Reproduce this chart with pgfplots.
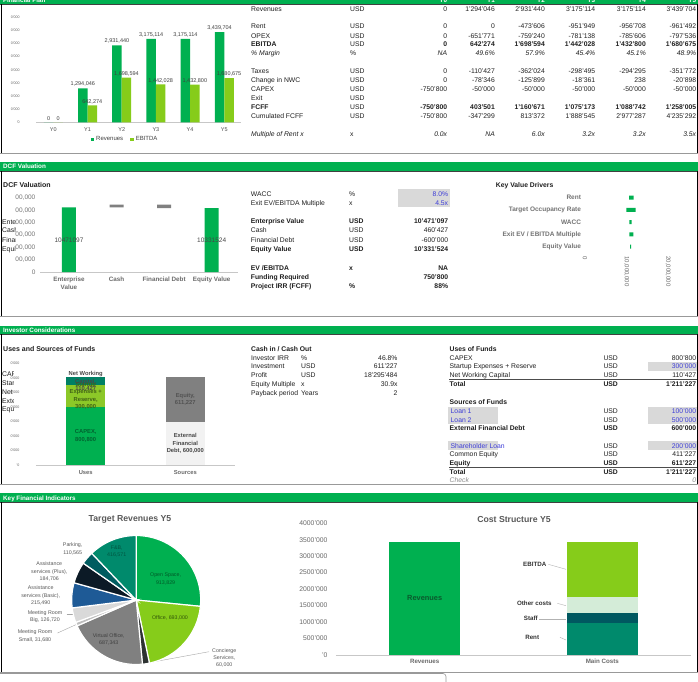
\documentclass[border=0pt]{standalone}
\usepackage{fontspec}
\setmainfont{Liberation Sans}
\usepackage{pgfplots}
\pgfplotsset{compat=1.18}
\pgfkeys{/pgf/number format/assume math mode=true}
\definecolor{G}{RGB}{0,176,80}
\definecolor{LG}{RGB}{134,204,26}
\definecolor{Teal}{RGB}{0,138,108}
\definecolor{DTeal}{RGB}{0,88,96}
\definecolor{PTeal}{RGB}{0,92,96}
\definecolor{Mint}{RGB}{212,236,216}
\definecolor{Gry}{RGB}{128,128,128}
\definecolor{LGry}{RGB}{217,217,217}
\definecolor{VLG}{RGB}{242,242,242}
\definecolor{BoxG}{RGB}{217,217,217}
\definecolor{Blu}{RGB}{60,60,215}
\definecolor{ABlue}{RGB}{30,90,150}
\definecolor{Navy}{RGB}{12,26,38}
\definecolor{Conc}{RGB}{45,50,50}
\definecolor{MRS}{RGB}{190,190,190}
\definecolor{NWC}{RGB}{0,128,100}
\definecolor{SU}{RGB}{140,200,40}
\newcommand{\fs}[1]{\fontsize{#1}{#1}\selectfont}
\newcommand{\fss}[2]{\fontsize{#1}{#2}\selectfont}
\tikzset{
 L/.style={anchor=base west,inner sep=0pt,yshift=-2.5pt},
 R/.style={anchor=base east,inner sep=0pt,yshift=-2.5pt},
 B/.style={font=\fs{6.8}\bfseries},
 I/.style={font=\fs{6.8}\itshape},
}
\newcommand{\frow}[5][]{%
 \node[L,#1] at (251,#2) {#3};
 \node[L] at (350,#2) {#4};
 \foreach \v [count=\i from 0] in {#5} {%
  \pgfmathsetmacro\xx{{447.3,495,545,595.3,646,696.3}[\i]}%
  \node[R,#1] at (\xx,#2) {\v};
 }%
}
\newcommand{\panel}[4]{%
 \fill[G] (0,#1) rectangle (698,#2);
 \draw[black!75,line width=0.8pt] (0,#2) -- (698,#2);
 \draw[black,line width=1pt] (1,#2) -- (1,#3);
 \draw[black,line width=1pt] (697,#2) -- (697,#3);
 \draw[black!40,line width=1.6pt] (0,#3) -- (698,#3);
 \node[L,text=white,font=\fs{6.3}\bfseries] at (3,{(#1+#2)/2}) {#4};
}
\def\piedata{913829/G,693000/LG,60000/Conc,687343/Gry,31680/MRS,126720/LGry,215490/ABlue,184706/Navy,110565/PTeal,416571/Teal}
\begin{document}
\begin{tikzpicture}
\useasboundingbox (0,0) rectangle (698pt,-681pt);
\clip (0,0) rectangle (698pt,-681pt);
\fill[white] (0,0) rectangle (698pt,-681pt);
\begin{scope}[x=1pt,y=-1pt,every node/.style={font=\fs{6.8},text=black!88}]
% ---------- Financial plan frame
\fill[G] (0,0) rectangle (698,4);
\draw[black!75,line width=0.8pt] (0,4) -- (698,4);
\begin{scope}
 \clip (0,0) rectangle (698,3.6);
 \node[L,text=white,font=\fs{6.3}\bfseries] at (3,0) {Financial Plan};
 \foreach \xx/\t in {447.3/Y0,495/Y1,545/Y2,595.3/Y3,646/Y4,696.3/Y5}
  \node[R,text=white,font=\fs{6.3}\bfseries] at (\xx,0) {\t};
\end{scope}
\draw[black,line width=1pt] (1,4) -- (1,154);
\draw[black,line width=1pt] (697,4) -- (697,154);
\draw[black!40,line width=1.6pt] (0,153.5) -- (698,153.5);
% table
\frow{9}{Revenues}{USD}{0,1'294'046,2'931'440,3'175'114,3'175'114,3'439'704}
\frow{26}{Rent}{USD}{0,0,-473'606,-951'949,-956'708,-961'492}
\frow{35.7}{OPEX}{USD}{0,-651'771,-759'240,-781'138,-785'606,-797'536}
\frow[B]{44.3}{EBITDA}{USD}{0,642'274,1'698'594,1'442'028,1'432'800,1'680'675}
\frow[I]{53}{\% Margin}{\%}{NA,49.6\%,57.9\%,45.4\%,45.1\%,48.9\%}
\frow{71}{Taxes}{USD}{0,-110'427,-362'024,-298'495,-294'295,-351'772}
\frow{80.3}{Change in NWC}{USD}{0,-78'346,-125'899,-18'361,238,-20'898}
\frow{89}{CAPEX}{USD}{-750'800,-50'000,-50'000,-50'000,-50'000,-50'000}
\node[L] at (251,98) {Exit}; \node[L] at (350,98) {USD};
\frow[B]{107}{FCFF}{USD}{-750'800,403'501,1'160'671,1'075'173,1'088'742,1'258'005}
\frow{116}{Cumulated FCFF}{USD}{-750'800,-347'299,813'372,1'888'545,2'977'287,4'235'292}
\frow[I]{134}{Multiple of Rent x}{x}{0.0x,NA,6.0x,3.2x,3.2x,3.5x}
% ---------- DCF
\panel{161.5}{171}{316.5}{DCF Valuation}
\node[L,font=\fs{7}\bfseries] at (3,185) {DCF Valuation};
\begin{scope}
 \clip (0,215) rectangle (15,255);
 \node[L] at (2,222.3) {Enterprise Value};
 \node[L] at (2,230.3) {Cash};
 \node[L] at (2,240) {Financial Debt};
 \node[L] at (2,249) {Equity Value};
\end{scope}
\fill[BoxG] (398.3,189.3) rectangle (450,207.3);
\node[L] at (250.7,194.3) {WACC}; \node[L] at (349,194.3) {\%}; \node[R,text=Blu] at (448.3,194.3) {8.0\%};
\node[L] at (250.7,203) {Exit EV/EBITDA Multiple}; \node[L] at (349,203) {x}; \node[R,text=Blu] at (448.3,203) {4.5x};
\node[L,B] at (250.7,221.3) {Enterprise Value}; \node[L,B] at (349,221.3) {USD}; \node[R,B] at (448.3,221.3) {10'471'097};
\node[L] at (250.7,230.3) {Cash}; \node[L] at (349,230.3) {USD}; \node[R] at (448.3,230.3) {460'427};
\node[L] at (250.7,240) {Financial Debt}; \node[L] at (349,240) {USD}; \node[R] at (448.3,240) {-600'000};
\node[L,B] at (250.7,249.3) {Equity Value}; \node[L,B] at (349,249.3) {USD}; \node[R,B] at (448.3,249.3) {10'331'524};
\node[L,B] at (250.7,267.7) {EV /EBITDA}; \node[L,B] at (349,267.7) {x}; \node[R,B] at (448.3,267.7) {NA};
\node[L,B] at (250.7,276.7) {Funding Required}; \node[R,B] at (448.3,276.7) {750'800};
\node[L,B] at (250.7,286) {Project IRR (FCFF)}; \node[L,B] at (349,286) {\%}; \node[R,B] at (448.3,286) {88\%};
\node[L,B] at (495.7,185) {Key Value Drivers};
% ---------- Investor
\panel{326}{334.3}{484.3}{Investor Considerations}
\node[L,font=\fs{7}\bfseries] at (3,348.7) {Uses and Sources of Funds};
\begin{scope}
 \clip (0,368) rectangle (13.8,414);
 \node[L] at (2,374.3) {CAPEX};
 \node[L] at (2,383.3) {Startup Expenses + Reserve};
 \node[L] at (2,392.3) {Net Working Capital};
 \node[L] at (2,401.3) {External Financial Debt};
 \node[L] at (2,409) {Equity};
\end{scope}
\node[L,B] at (251,348.7) {Cash in / Cash Out};
\node[L] at (251,357.7) {Investor IRR}; \node[L] at (301,357.7) {\%}; \node[R] at (397.7,357.7) {46.8\%};
\node[L] at (251,366.3) {Investment}; \node[L] at (301,366.3) {USD}; \node[R] at (397.7,366.3) {611'227};
\node[L] at (251,375) {Profit}; \node[L] at (301,375) {USD}; \node[R] at (397.7,375) {18'295'484};
\node[L] at (251,384) {Equity Multiple}; \node[L] at (301,384) {x}; \node[R] at (397.7,384) {30.9x};
\node[L] at (251,392.7) {Payback period}; \node[L] at (301,392.7) {Years}; \node[R] at (397.7,392.7) {2};
\fill[BoxG] (648.3,362) rectangle (697,370.6);
\fill[BoxG] (648.3,406.7) rectangle (697,423.9);
\fill[BoxG] (448.3,406.7) rectangle (498.3,423.9);
\fill[BoxG] (448.3,441.4) rectangle (498.3,450);
\fill[BoxG] (648.3,441.4) rectangle (697,450);
\draw[black!70,line width=0.5pt] (449,379.7) -- (697,379.7);
\draw[black!70,line width=0.5pt] (449,467.3) -- (697,467.3);
\node[L,B] at (449.5,348.7) {Uses of Funds};
\node[L] at (449.5,357.7) {CAPEX}; \node[L] at (603.3,357.7) {USD}; \node[R] at (696.3,357.7) {800'800};
\node[L] at (449.5,366.3) {Startup Expenses + Reserve}; \node[L] at (603.3,366.3) {USD}; \node[R,text=Blu] at (696.3,366.3) {300'000};
\node[L] at (449.5,375) {Net Working Capital}; \node[L] at (603.3,375) {USD}; \node[R] at (696.3,375) {110'427};
\node[L,B] at (449.5,384) {Total}; \node[L,B] at (603.3,384) {USD}; \node[R,B] at (696.3,384) {1'211'227};
\node[L,B] at (449.5,402.3) {Sources of Funds};
\node[L,text=Blu] at (450.5,411) {Loan 1}; \node[L] at (603.3,411) {USD}; \node[R,text=Blu] at (696.3,411) {100'000};
\node[L,text=Blu] at (450.5,419.7) {Loan 2}; \node[L] at (603.3,419.7) {USD}; \node[R,text=Blu] at (696.3,419.7) {500'000};
\node[L,B] at (449.5,428.3) {External Financial Debt}; \node[L,B] at (603.3,428.3) {USD}; \node[R,B] at (696.3,428.3) {600'000};
\node[L,text=Blu] at (450.5,445.7) {Shareholder Loan}; \node[L] at (603.3,445.7) {USD}; \node[R,text=Blu] at (696.3,445.7) {200'000};
\node[L] at (449.5,454.3) {Common Equity}; \node[L] at (603.3,454.3) {USD}; \node[R] at (696.3,454.3) {411'227};
\node[L,B] at (449.5,463) {Equity}; \node[L,B] at (603.3,463) {USD}; \node[R,B] at (696.3,463) {611'227};
\node[L,B] at (449.5,471.7) {Total}; \node[L,B] at (603.3,471.7) {USD}; \node[R,B] at (696.3,471.7) {1'211'227};
\node[L,I,text=black!45] at (449.5,480.3) {Check}; \node[R,I,text=black!45] at (696.3,480.3) {0};
% ---------- Key financial indicators
\panel{493.3}{502.3}{672.5}{Key Financial Indicators}
\node[font=\fs{8.7}\bfseries,text=black!65] at (130,519.3) {Target Revenues Y5};
\node[font=\fs{8.7}\bfseries,text=black!65] at (514,519) {Cost Structure Y5};
\begin{scope}[every node/.style={font=\fss{5.3}{7.2},align=center,inner sep=0pt,text=black!65}]
 \node at (72.7,549) {Parking,\\110,565};
 \node at (49.3,571.5) {Assistance\\services (Plus),\\184,706};
 \node at (40.7,595.5) {Assistance\\services (Basic),\\215,490};
 \node at (45,617) {Meeting Room\\Big, 126,720};
 \node at (35,636) {Meeting Room\\Small, 31,680};
 \node at (224.3,658.2) {Concierge\\Services,\\60,000};
\end{scope}
\draw[black!35,line width=0.4pt] (66.5,614) -- (73,614);
\draw[black!35,line width=0.4pt] (57.5,633) -- (78.5,623.5);
\draw[black!35,line width=0.4pt] (209,651.7) -- (150,662.5);
\begin{scope}[every node/.style={font=\fs{6.2}\bfseries,inner sep=0pt,text=black!80}]
 \node at (534.7,564) {EBITDA};
 \node at (534.3,603.3) {Other costs};
 \node at (530.8,618.3) {Staff};
 \node at (532.2,637.7) {Rent};
\end{scope}
\draw[black!30,line width=0.4pt] (548.3,564.3) -- (566,569.3);
\draw[black!30,line width=0.4pt] (557.3,603.3) -- (566,605.7);
\draw[black!30,line width=0.4pt] (539.3,618.7) -- (566,618.7);
\draw[black!30,line width=0.4pt] (560,637.3) -- (566,640);
\fill[white] (0,673.6) rectangle (446,690);
\draw[black!40,line width=0.6pt,rounded corners=3pt] (-5,673.5) -- (446,673.5) -- (446,690);
\end{scope}

% ===== Financial plan bar chart
\begin{axis}[
  at={(36.2pt,-122.3pt)},anchor=south west,scale only axis,width=205.2pt,height=105pt,
  xmin=-0.5,xmax=5.5,ymin=0,ymax=4000000,
  ybar=0pt,bar width=9.5pt,
  axis lines*=left,y axis line style={draw=none},x axis line style={draw=black!22,-},
  tick style={draw=none},major tick length=0pt,scaled ticks=false,
  xtick={0,1,2,3,4,5},xticklabels={Y0,Y1,Y2,Y3,Y4,Y5},
  xticklabel style={font=\fs{5.5},text=black!70,yshift=-1.5pt},
  ytick={0,500000,1000000,1500000,2000000,2500000,3000000,3500000,4000000},
  yticklabels={'0,0'000,0'000,0'000,0'000,0'000,0'000,0'000,0'000},
  yticklabel style={font=\fs{3.6},text=black!60,xshift=-13pt},
  nodes near coords={\pgfmathprintnumber[fixed,precision=0,1000 sep={,}]{\pgfplotspointmeta}},
  every node near coord/.append style={font=\fs{5.5},text=black!75,inner sep=1.5pt},
  legend columns=2,
  legend style={at={(0.433,-0.162)},anchor=center,draw=none,fill=none,font=\fs{6},text=black!75,/tikz/every even column/.append style={column sep=5pt}},
  clip=false]
\addplot[fill=G,draw=none,legend image code/.code={\fill[G] (0pt,-1.8pt) rectangle (3.6pt,1.8pt);}]
 coordinates {(0,0) (1,1294046) (2,2931440) (3,3175114) (4,3175114) (5,3439704)};
\addplot[fill=LG,draw=none,legend image code/.code={\fill[LG] (0pt,-1.8pt) rectangle (3.6pt,1.8pt);}]
 coordinates {(0,0) (1,642274) (2,1698594) (3,1442028) (4,1432800) (5,1680675)};
\legend{Revenues,EBITDA}
\end{axis}

% ===== DCF waterfall
\begin{axis}[
  at={(40.4pt,-272pt)},anchor=south west,scale only axis,width=197.5pt,height=74.1pt,
  xmin=-0.6,xmax=3.55,ymin=0,ymax=12000000,
  ybar stacked,bar width=14pt,
  axis lines*=left,y axis line style={draw=none},x axis line style={draw=black!22,-},
  tick style={draw=none},major tick length=0pt,scaled ticks=false,
  xtick={0,1,2,3},xticklabels={{Enterprise\\Value},Cash,{Financial Debt},{Equity Value}},
  xticklabel style={align=center,font=\fss{6.3}{8}\bfseries,text=black!58,anchor=north,yshift=-1pt},
  ytick={0,2000000,4000000,6000000,8000000,10000000,12000000},
  yticklabels={0,{00,000},{00,000},{00,000},{00,000},{00,000},{00,000}},
  yticklabel style={font=\fs{6.5},text=black!55,xshift=-1.5pt},
  clip=false]
\addplot[draw=none,fill=none] coordinates {(0,0) (1,10471097) (2,10331524) (3,0)};
\addplot[fill=G,draw=none] coordinates {(0,10471097) (1,0) (2,0) (3,10331524)};
\addplot[fill=Gry,draw=none] coordinates {(0,0) (1,460427) (2,600000) (3,0)};
\end{axis}

% ===== Key value drivers (tornado)
\begin{axis}[
  at={(588pt,-191.6pt)},anchor=north west,scale only axis,width=83pt,height=61.25pt,
  xmin=0,xmax=20000000,ymin=-0.5,ymax=4.5,y dir=reverse,
  xbar stacked,bar width=4pt,
  axis line style={draw=none},tick style={draw=none},major tick length=0pt,scaled ticks=false,
  ytick={0,1,2,3,4},
  yticklabels={Rent,Target Occupancy Rate,WACC,Exit EV / EBITDA Multiple,Equity Value},
  yticklabel style={font=\fs{6.5}\bfseries,text=black!55,xshift=-3.5pt},
  xtick={0,10000000,20000000},xticklabels={0,{10,000,000},{20,000,000}},
  xticklabel style={rotate=-90,anchor=west,font=\fs{6},text=black!60,yshift=-3pt},
  clip=false]
\addplot[draw=none,fill=none] coordinates {(9880000,0) (9230000,1) (9950000,2) (9950000,3) (10120000,4)};
\addplot[fill=G,draw=none] coordinates {(1130000,0) (2260000,1) (580000,2) (970000,3) (240000,4)};
\end{axis}

% ===== Uses and sources
\begin{axis}[
  at={(35.9pt,-465pt)},anchor=south west,scale only axis,width=199.2pt,height=101.4pt,
  xmin=-0.5,xmax=1.5,ymin=0,ymax=1400000,
  ybar stacked,bar width=39.5pt,
  axis lines*=left,y axis line style={draw=none},x axis line style={draw=black!22,-},
  tick style={draw=none},major tick length=0pt,scaled ticks=false,
  xtick={0,1},xticklabels={Uses,Sources},
  xticklabel style={font=\fs{5.8}\bfseries,text=black!58,yshift=-2pt},
  ytick={0,200000,400000,600000,800000,1000000,1200000,1400000},
  yticklabels={'0,0'000,0'000,0'000,0'000,0'000,0'000,0'000},
  yticklabel style={font=\fs{3.6},text=black!60,xshift=-13pt},
  clip=false]
\addplot[fill=G,draw=none] coordinates {(0,800800) (1,0)};
\addplot[fill=SU,draw=none] coordinates {(0,300000) (1,0)};
\addplot[fill=NWC,draw=none] coordinates {(0,110427) (1,0)};
\addplot[fill=VLG,draw=none] coordinates {(0,0) (1,600000)};
\addplot[fill=Gry,draw=none] coordinates {(0,0) (1,611227)};
\end{axis}

% ===== Pie (Target revenues Y5)
\begin{axis}[
  at={(136.2pt,-600pt)},anchor=center,scale only axis,width=129pt,height=129pt,
  xmin=-1,xmax=1,ymin=-1,ymax=1,hide axis,clip=false]
\addplot[draw=none] coordinates {(0,0)};
\pgfplotsextra{%
  \xdef\tot{0}%
  \foreach \v/\c in \piedata {\xdef\tot{\fpeval{\tot+\v}}}%
  \xdef\cum{90}%
  \foreach \v/\c in \piedata {%
    \xdef\nxt{\fpeval{\cum-\v/\tot*360}}%
    \fill[\c,draw=white,line width=1.2pt] (axis cs:0,0) -- ++(\cum:64.5pt) arc[start angle=\cum,end angle=\nxt,radius=64.5pt] -- cycle;
    \xdef\cum{\nxt}%
  }%
}
\end{axis}

% ===== Cost structure
\begin{axis}[
  at={(335.9pt,-654.7pt)},anchor=south west,scale only axis,width=355.2pt,height=131.4pt,
  xmin=-0.5,xmax=1.5,ymin=0,ymax=4000000,
  ybar stacked,bar width=71.3pt,
  axis lines*=left,y axis line style={draw=none},x axis line style={draw=black!22,-},
  tick style={draw=none},major tick length=0pt,scaled ticks=false,
  xtick={0,1},xticklabels={Revenues,Main Costs},
  xticklabel style={font=\fs{6.2}\bfseries,text=black!58,yshift=-1pt},
  ytick={0,500000,1000000,1500000,2000000,2500000,3000000,3500000,4000000},
  yticklabels={'0,500'000,1000'000,1500'000,2000'000,2500'000,3000'000,3500'000,4000'000},
  yticklabel style={font=\fs{6.8},text=black!60,xshift=-5pt},
  clip=false]
\addplot[fill=G,draw=none] coordinates {(0,3439704) (1,0)};
\addplot[fill=Teal,draw=none] coordinates {(0,0) (1,961492)};
\addplot[fill=DTeal,draw=none] coordinates {(0,0) (1,295000)};
\addplot[fill=Mint,draw=none] coordinates {(0,0) (1,502536)};
\addplot[fill=LG,draw=none] coordinates {(0,0) (1,1680675)};
\end{axis}

% ===== data labels on top of bars and slices
\begin{scope}[x=1pt,y=-1pt,every node/.style={align=center,inner sep=0pt}]
\node[font=\fs{6.5},text=black!72] at (69,240.3) {10471097};
\node[font=\fs{6.5},text=black!72] at (211.7,240.3) {10331524};
\node[font=\fss{5.8}{7.4}\bfseries,text={rgb,255:red,0;green,100;blue,48}] at (85.7,436) {CAPEX,\\800,800};
\node[font=\fss{5.8}{7.5}\bfseries,text={rgb,255:red,65;green,100;blue,22}] at (85.7,396) {Startup\\Expenses +\\Reserve,\\300,000};
\node[font=\fss{5.8}{7.2}\bfseries,text=black!72] at (85.7,381.5) {Net Working\\Capital,\\110,427};
\node[font=\fss{5.8}{7.3}\bfseries,text=black!68] at (185.3,399.4) {Equity,\\611,227};
\node[font=\fss{5.8}{7.4}\bfseries,text=black!72] at (185.3,443.6) {External\\Financial\\Debt, 600,000};
\node[font=\fs{7.4}\bfseries,text={rgb,255:red,10;green,90;blue,45}] at (424.7,598.3) {Revenues};
\node[font=\fss{5.3}{7.2},text={rgb,255:red,0;green,85;blue,65}] at (116.7,551.1) {F\&B,\\416,571};
\node[font=\fss{5.3}{7.2},text={rgb,255:red,0;green,90;blue,40}] at (165.6,579) {Open Space,\\913,829};
\node[font=\fss{5.3}{7.2},text={rgb,255:red,50;green,85;blue,10}] at (170,618.3) {Office, 693,000};
\node[font=\fss{5.3}{7.2},text=black!75] at (108.8,639.3) {Virtual Office,\\687,343};
\end{scope}
\end{tikzpicture}
\end{document}
